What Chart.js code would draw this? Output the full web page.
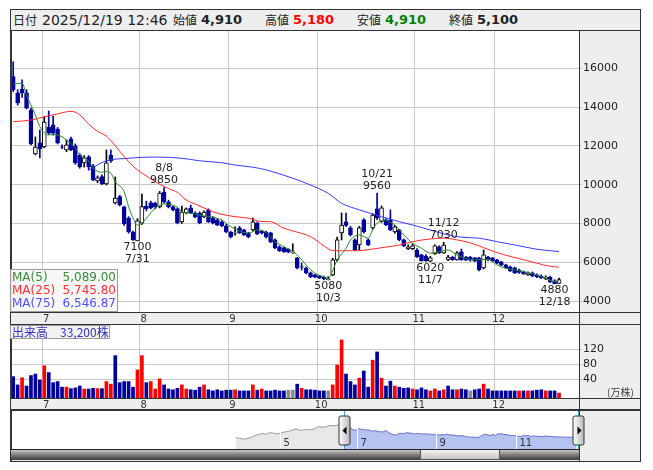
<!DOCTYPE html>
<html>
<head>
<meta charset="utf-8">
<script src="https://cdn.jsdelivr.net/npm/chart.js"></script>
<style>
  body { margin: 0; width: 653px; height: 470px; background: #fff; position: relative; overflow: hidden;
         font-family: "DejaVu Sans", sans-serif; }
  #frame { position: absolute; left: 10px; top: 9px; width: 631px; height: 453px; box-sizing: border-box;
           border: 1px solid #333; background: #eeeeee; }
  #hdrline { position: absolute; left: 10px; top: 30px; width: 631px; height: 1px; background: #333; }
  .h { position: absolute; top: 11px; line-height: 18px; white-space: nowrap; color: #222; }
  .k { font-family: "Noto Sans CJK JP", sans-serif; font-size: 12px; }
  .d { font-size: 14px; }
  .v { font-size: 13px; font-weight: bold; }
  canvas { position: absolute; }
  #legend { position: absolute; left: 10px; top: 269px; width: 108px; height: 43px; box-sizing: border-box;
            border: 1px solid #9a9a9a; background: rgba(246,246,246,0.9); font-size: 12px; line-height: 13px;
            padding: 1px 1px 0 1px; }
  #legend div { display: flex; justify-content: space-between; }
  #volbox { position: absolute; left: 10px; top: 325px; width: 100px; height: 14px; box-sizing: border-box;
            border: 1px solid #9a9a9a; background: #f2f2f2; color: #3333bb; font-size: 12px; line-height: 12px;
            font-family: "Noto Sans CJK JP", sans-serif; padding-left: 1px; white-space: nowrap; }
  #unit { position: absolute; left: 607px; top: 384px; font-size: 10px; color: #444;
          font-family: "Noto Sans CJK JP", sans-serif; }
</style>
</head>
<body>
<div id="frame"></div>
<div id="hdrline"></div>
<span class="h k" style="left:13px">日付</span>
<span class="h d" style="left:42px">2025/12/19 12:46</span>
<span class="h k" style="left:173px">始値</span>
<span class="h v" style="left:201px">4,910</span>
<span class="h k" style="left:265px">高値</span>
<span class="h v" style="left:293px;color:#ff0000">5,180</span>
<span class="h k" style="left:357px">安値</span>
<span class="h v" style="left:385px;color:#008000">4,910</span>
<span class="h k" style="left:449px">終値</span>
<span class="h v" style="left:477px">5,100</span>

<canvas id="main" width="630" height="294" style="left:11px;top:31px"></canvas>
<canvas id="vol" width="630" height="85" style="left:11px;top:325px"></canvas>
<canvas id="nav" width="630" height="51" style="left:11px;top:410px"></canvas>

<div id="legend">
  <div style="color:#3a8a3a"><span>MA(5)</span><span>5,089.00</span></div>
  <div style="color:#ff3030"><span>MA(25)</span><span>5,745.80</span></div>
  <div style="color:#5050ff"><span>MA(75)</span><span>6,546.87</span></div>
</div>
<div id="volbox">出来高　33,200株</div>
<div id="unit">(万株)</div>

<script>
// trading days shown (2025/6/20 - 2025/12/19)
const dates = [
  '6/20','6/23','6/24','6/25','6/26','6/27','6/30',
  '7/1','7/2','7/3','7/4','7/7','7/8','7/9','7/10','7/11','7/14','7/15','7/16','7/17','7/18','7/22','7/23','7/24','7/25','7/28','7/29','7/30','7/31',
  '8/1','8/4','8/5','8/6','8/7','8/8','8/12','8/13','8/14','8/15','8/18','8/19','8/20','8/21','8/22','8/25','8/26','8/27','8/28','8/29',
  '9/1','9/2','9/3','9/4','9/5','9/8','9/9','9/10','9/11','9/12','9/16','9/17','9/18','9/19','9/22','9/24','9/25','9/26','9/29','9/30',
  '10/1','10/2','10/3','10/6','10/7','10/8','10/9','10/10','10/14','10/15','10/16','10/17','10/20','10/21','10/22','10/23','10/24','10/27','10/28','10/29','10/30','10/31',
  '11/4','11/5','11/6','11/7','11/10','11/11','11/12','11/13','11/14','11/17','11/18','11/19','11/20','11/21','11/25','11/26','11/27','11/28',
  '12/1','12/2','12/3','12/4','12/5','12/8','12/9','12/10','12/11','12/12','12/15','12/16','12/17','12/18','12/19'
];

const opens = [
  15570,14730,14930,14730,13850,11580,12150,
  11940,12970,13080,12870,11950,11790,12360,12000,11530,11120,11430,10960,10190,10410,10040,11530,9060,9380,8850,8280,7560,7100,
  8020,8900,9060,9050,8850,9620,9110,8850,8750,8080,8540,8800,8540,8540,8340,8700,8280,8180,8080,7870,
  7560,7500,7770,7670,7510,7660,8030,7610,7560,7510,7150,6790,6740,6680,6480,6220,5760,5700,5450,5350,
  5290,5240,5100,5350,6120,7510,8080,7770,7150,6890,8180,7150,7770,8750,8100,8180,8180,7560,7670,7150,6690,6700,
  6630,6380,6320,6050,6430,6790,6480,6120,6270,6120,6530,6270,6270,6220,6220,5710,6270,6220,
  6120,6020,5860,5760,5710,5600,5500,5350,5450,5350,5290,5140,5240,5040,4910
];
const highs = [
  16340,14900,15400,14900,13950,12460,12820,
  13500,13800,13540,12950,12050,12300,12450,12100,11600,11500,11500,11050,10450,10500,11790,11800,10400,9450,8900,8350,7600,8250,
  9520,9150,9150,9100,9650,9850,9200,8900,8800,8900,8800,8950,8600,8600,8650,8750,8350,8250,8150,7950,
  7600,7820,7850,7700,7550,8280,8080,7650,7600,7550,7200,6850,6780,6700,6950,6250,5950,5750,5500,5380,
  5320,5280,5250,6200,7300,8540,8540,7850,7200,7850,8250,7200,8500,9560,8900,8250,8700,7900,7700,7200,6900,6950,
  6700,6420,6400,6300,6900,6850,7030,6350,6300,6550,6680,6300,6300,6250,6250,6630,6300,6250,
  6150,6050,5900,5800,5750,5650,5550,5500,5500,5400,5350,5300,5280,5100,5180
];
const lows = [
  14800,14100,14500,13900,12050,11530,11380,
  11900,12600,12550,12100,11850,11700,11750,11050,10850,10900,10750,10200,10100,10000,9980,11150,9000,8900,7900,7500,7120,7100,
  7950,8650,8750,8750,8800,9050,8800,8650,7980,8000,8500,8500,8300,7980,8300,8050,7980,7880,7830,7520,
  7250,7400,7480,7380,7250,7620,7420,7450,7250,7000,6700,6550,6500,6480,6450,5650,5600,5400,5200,5200,
  5150,5100,5080,5300,6050,7150,7850,7350,6600,6630,7500,6850,7700,8200,8050,7880,7620,7500,7100,6800,6650,6650,
  6250,6050,6040,6020,6400,6450,6450,6080,6100,6100,6100,6090,6050,6030,5550,5650,6080,6030,
  5920,5820,5680,5520,5420,5420,5370,5320,5250,5200,5150,5100,4950,4880,4910
];
const closes = [
  14880,14210,14730,13950,12100,11940,11840,
  13230,12660,12650,12150,11930,12050,11790,11120,10910,11380,10910,10240,10350,10040,11120,11220,9310,8950,7970,7560,7150,8130,
  8870,8750,8800,8850,9570,9110,8850,8700,8030,8590,8750,8540,8340,8030,8590,8080,8030,7920,7870,7560,
  7300,7520,7510,7410,7300,8080,7460,7510,7300,7050,6740,6580,6530,6530,6530,5710,5750,5450,5240,5230,
  5190,5140,5140,6120,7150,7920,7900,7410,6630,7770,7560,6890,8430,8280,8800,7920,7670,7820,7150,6840,6790,6850,
  6270,6080,6070,6220,6840,6480,6890,6270,6120,6480,6120,6110,6110,6050,5600,6380,6120,6070,
  5960,5860,5710,5550,5450,5480,5400,5450,5290,5240,5190,5240,4980,4900,5100
];
// volume, 万株
const volumes = [
  47,25,44,22,50,54,38,
  76,58,31,34,19,19,15,17,22,14,14,16,15,15,34,27,103,31,34,34,19,65,
  103,31,34,14,41,25,14,12,16,25,14,12,11,19,25,12,9,12,9,11,
  11,12,9,9,9,25,11,14,9,9,11,9,9,11,11,27,16,12,12,11,
  9,9,9,25,78,145,54,34,25,43,62,19,91,113,43,22,35,22,19,16,17,14,
  12,17,12,9,14,9,12,22,12,12,14,12,9,12,14,27,14,9,
  9,9,9,9,9,9,9,9,9,11,12,9,9,9,3.32
];

// moving averages at selected days
const ma5At = [0,2,3,5,6,8,9,11,12,14,15,17,18,20,21,22,23,25,26,27,28,29,30,32,34,37,38,40,43,45,47,49,52,53,55,57,59,61,64,66,68,70,71,73,75,76,78,80,81,82,84,85,86,88,90,92,94,96,98,100,102,104,107,109,111,113,116,118,120,122,123];
const ma5 = [15190,15230,14620,13590,12990,12560,12600,12470,12300,11880,11530,11220,10850,10640,10670,10590,10150,9640,8865,8268,7922,8010,8268,8783,9005,8835,8608,8526,8386,8319,8180,7834,7525,7494,7665,7525,7061,6804,6376,5860,5432,5257,5180,6118,6721,7149,7407,7237,7665,8010,8180,8050,7922,7407,6979,6721,6463,6546,6634,6376,6205,6118,6154,5860,5690,5603,5464,5345,5175,5000,5089];
const ma25At = [0,4,7,10,13,15,17,19,21,23,25,27,29,31,33,35,37,39,41,43,45,47,50,53,56,58,61,64,67,70,72,75,78,81,84,87,90,94,97,100,103,106,109,112,115,118,121,123];
const ma25 = [13250,13330,13500,13650,13780,13600,13120,12750,12500,12000,11450,10950,10600,10300,10020,9800,9600,9200,9000,8800,8600,8470,8350,8270,8100,8090,7750,7550,7320,6850,6600,6590,6600,6680,6780,6890,7060,7200,7240,7150,7000,6750,6500,6300,6130,5950,5790,5746];
const ma75At = [17,21,26,29,33,38,42,47,50,54,57,60,63,67,71,74,78,83,87,90,94,98,101,105,109,113,118,123];
const ma75 = [10760,11230,11360,11410,11420,11360,11230,11130,11010,10900,10760,10560,10330,9980,9550,9040,8700,8350,8090,7920,7660,7410,7290,7240,7060,6890,6670,6547];

// high / low labels
const markAt = [28,34,71,82,94,97,122];
const markKind = ['low','high','low','high','low','high','low'];

const priceTicks = [4000,6000,8000,10000,12000,14000,16000];
const volTicks = [40,80,120];

// navigator: earlier closes (days before 6/20) and month labels
const navPreAt = [-58,-56,-54,-52,-50,-48,-46,-44,-42,-40,-38,-36,-34,-32,-30,-28,-26,-24,-22,-20,-18,-16,-14,-12,-10,-8,-6,-4,-2,-1];
const navPre = [4800,4200,3500,4000,5000,6500,7800,8800,8000,9500,9000,8400,9200,10200,10600,11800,13000,11500,12000,12500,12200,13200,15200,14500,15000,16200,15800,16500,15200,15400];
const navTickAt = [-34,7,49,91];
const navTickLabel = ['5','7','9','11'];

const DOWN = '#00009a', UP_BORDER = '#000000';
const FONT = 'DejaVu Sans';

const isUp = opens.map((o, i) => closes[i] >= o);
const monthStarts = dates.map((d, i) => i).filter(i => i > 0 && dates[i].split('/')[0] !== dates[i - 1].split('/')[0]);
const volColors = closes.map((c, i) => {
  const prev = i === 0 ? opens[0] : closes[i - 1];
  return c > prev ? '#ff0000' : (c < prev ? DOWN : '#8c8c8c');
});

const noPad = s => { s.paddingTop = 0; s.paddingBottom = 0; s.paddingLeft = 0; s.paddingRight = 0; };

const panel = {
  id: 'panel',
  beforeDraw(chart) {
    const { ctx, chartArea: a } = chart;
    ctx.save();
    ctx.fillStyle = '#fff';
    ctx.fillRect(a.left, a.top, a.right - a.left, a.bottom - a.top);
    ctx.restore();
  },
  afterDraw(chart) {
    const { ctx, chartArea: a } = chart;
    ctx.save();
    ctx.strokeStyle = '#333';
    ctx.lineWidth = 1;
    ctx.beginPath();
    ctx.moveTo(a.left + 0.5, a.top); ctx.lineTo(a.left + 0.5, a.bottom);
    ctx.moveTo(a.right + 0.5, a.top); ctx.lineTo(a.right + 0.5, chart.height);
    ctx.moveTo(0, a.bottom + 0.5); ctx.lineTo(chart.width, a.bottom + 0.5);
    ctx.moveTo(0, chart.height - 0.5); ctx.lineTo(chart.width, chart.height - 0.5);
    ctx.stroke();
    ctx.restore();
  }
};

const marks = {
  id: 'marks',
  afterDatasetsDraw(chart) {
    const { ctx, scales: { x, y } } = chart;
    ctx.save();
    ctx.font = '11px "' + FONT + '"';
    ctx.fillStyle = '#222';
    ctx.textAlign = 'center';
    ctx.textBaseline = 'middle';
    markAt.forEach((i, k) => {
      const px = x.getPixelForValue(i);
      if (markKind[k] === 'high') {
        const py = y.getPixelForValue(highs[i]);
        ctx.fillText(dates[i], px, py - 19);
        ctx.fillText(String(highs[i]), px, py - 7);
      } else {
        const py = y.getPixelForValue(lows[i]);
        ctx.fillText(String(lows[i]), px, py + 6);
        ctx.fillText(dates[i], px, py + 18);
      }
    });
    ctx.restore();
  }
};

function monthAxis(height) {
  return {
    type: 'linear', min: -0.5, max: 127.5, offset: false,
    grid: { color: '#c8c8c8', drawTicks: false, offset: false },
    border: { display: false },
    afterBuildTicks: s => { s.ticks = monthStarts.map(i => ({ value: i - 0.5 })); },
    afterFit: s => { s.height = height; noPad(s); },
    ticks: {
      font: { family: FONT, size: 10 }, color: '#333', padding: 1, labelOffset: 4,
      maxRotation: 0, autoSkip: false,
      callback: v => dates[v + 0.5].split('/')[0]
    }
  };
}

const line = (at, vals, color) => ({
  type: 'line',
  data: at.map((x, k) => ({ x, y: vals[k] })),
  borderColor: color, borderWidth: 1, pointRadius: 0,
  cubicInterpolationMode: 'monotone'
});

const base = {
  responsive: false, animation: false, devicePixelRatio: 1,
  layout: { padding: 0, autoPadding: false },
  plugins: { legend: { display: false }, tooltip: { enabled: false } }
};

new Chart(document.getElementById('main'), {
  type: 'bar',
  data: {
    datasets: [
      line(ma5At, ma5, '#2a8a2a'),
      line(ma25At, ma25, '#ff2a2a'),
      line(ma75At, ma75, '#3a3aff'),
      {
        data: dates.map((d, i) => ({ x: i, y: [Math.min(opens[i], closes[i]), Math.max(opens[i], closes[i])] })),
        backgroundColor: isUp.map(u => u ? '#fff' : DOWN),
        borderColor: isUp.map(u => u ? UP_BORDER : DOWN),
        borderWidth: 1, borderSkipped: false, barThickness: 4, grouped: false
      },
      {
        data: dates.map((d, i) => ({ x: i, y: [lows[i], highs[i]] })),
        backgroundColor: isUp.map(u => u ? '#000' : DOWN),
        barThickness: 1, grouped: false
      }
    ]
  },
  options: {
    ...base,
    scales: {
      x: monthAxis(13),
      y: {
        position: 'right', min: 3433, max: 17923,
        grid: { color: '#c8c8c8', tickLength: 3 },
        border: { display: false },
        afterBuildTicks: s => { s.ticks = priceTicks.map(v => ({ value: v })); },
        afterFit: s => { s.width = 62; noPad(s); },
        ticks: { font: { family: FONT, size: 11 }, color: '#222', padding: 1, callback: v => String(v) }
      }
    }
  },
  plugins: [panel, marks]
});

new Chart(document.getElementById('vol'), {
  type: 'bar',
  data: {
    datasets: [{
      data: volumes.map((v, i) => ({ x: i, y: v })),
      backgroundColor: volColors, base: -9.9, barThickness: 3, grouped: false
    }]
  },
  options: {
    ...base,
    scales: {
      x: monthAxis(12),
      y: {
        position: 'right', min: -9.9, max: 184.8,
        grid: { color: '#c8c8c8', tickLength: 3 },
        border: { display: false },
        afterBuildTicks: s => { s.ticks = volTicks.map(v => ({ value: v })); },
        afterFit: s => { s.width = 62; noPad(s); },
        ticks: { font: { family: FONT, size: 11 }, color: '#222', padding: 1 }
      }
    }
  },
  plugins: [panel]
});

const navDecor = {
  id: 'navDecor',
  beforeDraw(chart) {
    const { ctx, chartArea: a } = chart;
    ctx.save();
    ctx.fillStyle = '#fff';
    ctx.fillRect(a.left, a.top, a.right - a.left, a.bottom - a.top);
    ctx.restore();
  },
  afterDatasetsDraw(chart) {
    const { ctx, chartArea: a, scales: { x } } = chart;
    ctx.save();
    // month separators and labels
    ctx.strokeStyle = '#ffffff';
    ctx.font = '10px "' + FONT + '"';
    ctx.fillStyle = '#333';
    ctx.textBaseline = 'bottom';
    navTickAt.forEach((i, k) => {
      const px = Math.round(x.getPixelForValue(i - 0.5)) + 0.5;
      ctx.beginPath(); ctx.moveTo(px, a.top); ctx.lineTo(px, a.bottom); ctx.stroke();
      ctx.fillText(navTickLabel[k], px + 3, a.bottom - 1);
    });
    // selection edges
    const left = Math.round(x.getPixelForValue(-0.5)) + 0.5;
    const right = Math.round(a.right) - 0.5;
    ctx.strokeStyle = '#2aa8e0';
    [left, right].forEach(px => { ctx.beginPath(); ctx.moveTo(px, a.top); ctx.lineTo(px, a.bottom); ctx.stroke(); });
    // frame lines
    ctx.strokeStyle = '#333';
    ctx.beginPath();
    ctx.moveTo(0, 0.5); ctx.lineTo(chart.width, 0.5);
    ctx.moveTo(a.right + 0.5, 0); ctx.lineTo(a.right + 0.5, chart.height);
    ctx.moveTo(a.left + 0.5, 0); ctx.lineTo(a.left + 0.5, chart.height);
    ctx.stroke();
    // scrollbar
    const sy = a.bottom, sh = chart.height - 1 - a.bottom;
    let g = ctx.createLinearGradient(0, sy, 0, sy + sh);
    g.addColorStop(0, '#d8d8d8'); g.addColorStop(0.45, '#8a8a8a'); g.addColorStop(1, '#3a3a3a');
    ctx.fillStyle = g;
    ctx.fillRect(a.left, sy, a.right - a.left, sh);
    const tx = x.getPixelForValue(40), tw = 79;
    g = ctx.createLinearGradient(0, sy, 0, sy + sh);
    g.addColorStop(0, '#fbfbfb'); g.addColorStop(1, '#bdbdbd');
    ctx.fillStyle = g;
    ctx.fillRect(tx, sy, tw, sh);
    ctx.strokeStyle = '#555';
    ctx.strokeRect(Math.round(tx) + 0.5, sy + 0.5, tw, sh - 1);
    ctx.strokeStyle = '#222';
    ctx.beginPath(); ctx.moveTo(a.left, sy + 0.5); ctx.lineTo(a.right, sy + 0.5); ctx.stroke();
    // handles
    [[left, -1], [right, 1]].forEach(([px, dir]) => {
      const hx = px - 5.5, hy = a.top + 5, hw = 11, hh = 29;
      const hg = ctx.createLinearGradient(hx, 0, hx + hw, 0);
      hg.addColorStop(0, '#ffffff'); hg.addColorStop(1, '#b8b8b8');
      ctx.fillStyle = hg;
      ctx.strokeStyle = '#333';
      ctx.beginPath();
      ctx.roundRect(hx, hy, hw, hh, 2);
      ctx.fill(); ctx.stroke();
      ctx.fillStyle = '#000';
      ctx.beginPath();
      const cx = px + 0.5, cy = hy + hh / 2;
      ctx.moveTo(cx + dir * 2.5, cy);
      ctx.lineTo(cx - dir * 1.5, cy - 4);
      ctx.lineTo(cx - dir * 1.5, cy + 4);
      ctx.closePath(); ctx.fill();
    });
    ctx.restore();
  }
};

new Chart(document.getElementById('nav'), {
  type: 'line',
  data: {
    datasets: [
      {
        data: navPreAt.map((x, k) => ({ x, y: navPre[k] })).concat([{ x: 0, y: closes[0] }]),
        borderColor: '#9a9a9a', backgroundColor: '#e8e8e8', fill: 'start', borderWidth: 1, pointRadius: 0
      },
      {
        data: closes.map((c, i) => ({ x: i, y: c })),
        borderColor: '#6a6acc', backgroundColor: '#b5c3f3', fill: 'start', borderWidth: 1, pointRadius: 0
      }
    ]
  },
  options: {
    ...base,
    layout: { padding: { top: 1, bottom: 12, left: 0, right: 62 }, autoPadding: false },
    scales: {
      x: { type: 'linear', display: false, min: -177.3, max: 124.2 },
      y: { display: false, min: -5660, max: 29550 }
    }
  },
  plugins: [navDecor]
});
</script>
</body>
</html>
